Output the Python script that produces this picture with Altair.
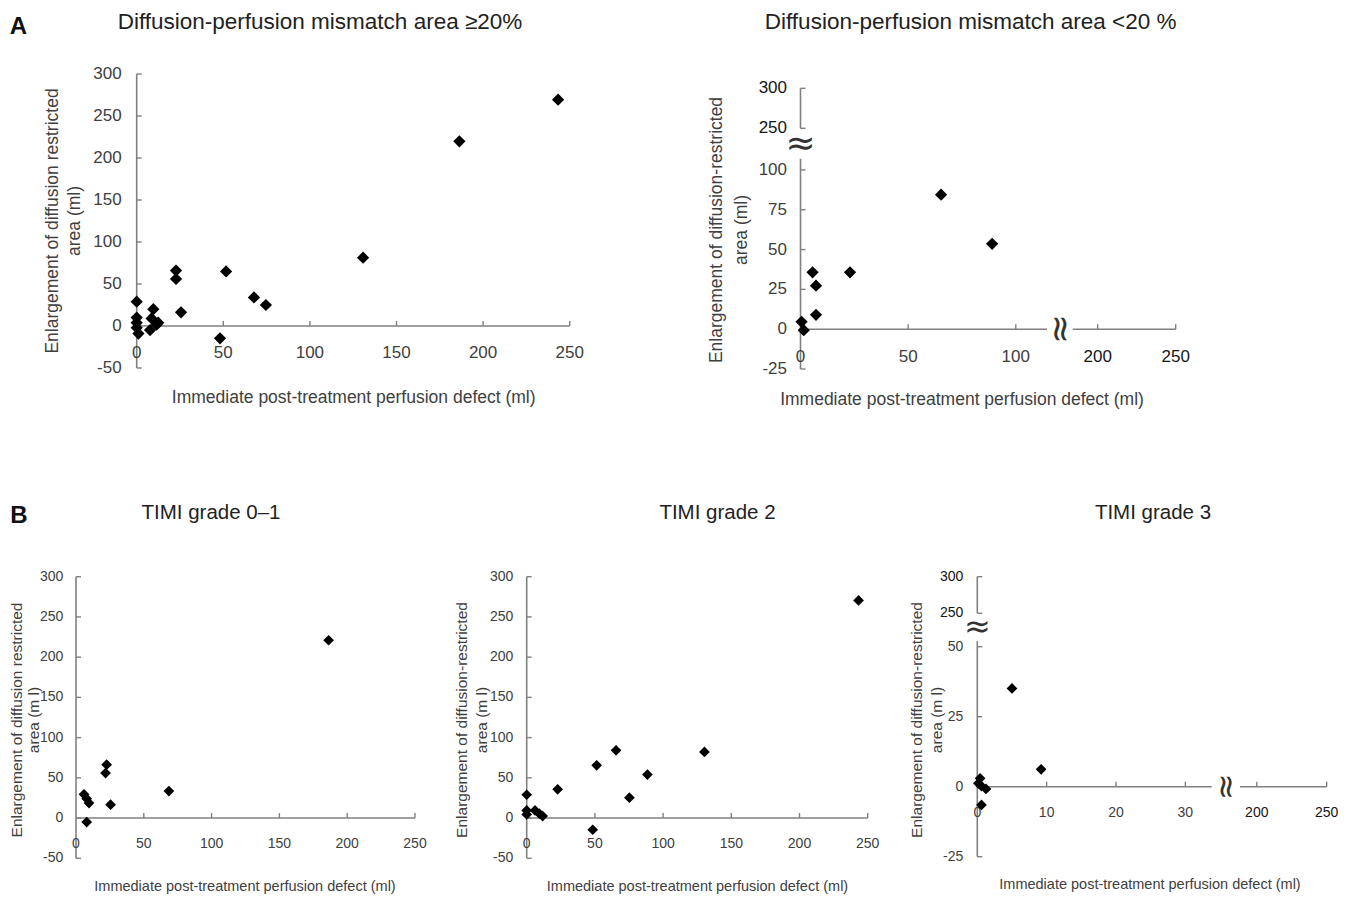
import altair as alt
import pandas as pd

# ---------------- data ----------------
# A: diffusion-perfusion mismatch >= 20 %
A1_X = [0, 0, 0, 0, 1, 9.6, 8.6, 7.7, 11.5, 12.4, 22.7, 22.7, 25.6, 48.1, 51.6, 67.7, 74.6, 130.7, 186.3, 243.3]
A1_Y = [29, 10, 4, -2, -9, 20, 9, -4.8, 1.5, 4, 66, 56, 16.3, -14.7, 65, 34, 25, 81.3, 219.8, 269.4]
# A: diffusion-perfusion mismatch < 20 %
A2_X = [0.5, 1.5, 5.6, 7.2, 7.2, 23, 65.3, 89]
A2_Y = [4.6, -0.6, 35.7, 27.3, 9, 35.7, 84.5, 53.6]
# B: TIMI grade 0-1
B1_X = [5.9, 7.9, 9.6, 7.9, 21.8, 22.6, 25.5, 68.5, 186.3]
B1_Y = [29.5, 24, 18.7, -5, 56, 66.4, 16.6, 33.6, 221]
# B: TIMI grade 2
B2_X = [0, 0, 0, 6.1, 9.3, 11.7, 22.7, 48.4, 51.3, 65.5, 75.3, 88.5, 130.3, 243.3]
B2_Y = [29, 9.5, 4.5, 9.5, 5.4, 2.5, 35.7, -14.5, 65.6, 84.2, 25.3, 54, 82.2, 270.5]
# B: TIMI grade 3
B3_X = [0.15, 0.4, 0.6, 0.6, 1.25, 5, 9.2]
B3_Y = [1.2, 3, 0.2, -6.5, -0.8, 35.1, 6.2]

TITLES = ["Diffusion-perfusion mismatch area \u226520%",
          "Diffusion-perfusion mismatch area <20 %",
          "TIMI grade 0\u20131", "TIMI grade 2", "TIMI grade 3"]
LETTERS = ["A", "B"]
X_TITLE = "Immediate post-treatment perfusion defect (ml)"
Y_TITLES = [["Enlargement of diffusion restricted", "area (ml)"],
            ["Enlargement of diffusion-restricted", "area (ml)"],
            ["Enlargement of diffusion restricted", "area (m l)"],
            ["Enlargement of diffusion-restricted", "area (m l)"],
            ["Enlargement of diffusion-restricted", "area (m l)"]]

# tick values / labels
Y_FULL = [-50, 0, 50, 100, 150, 200, 250, 300]
X_FULL_LABELS = [0, 50, 100, 150, 200, 250]
X_FULL_TICKS = [50, 100, 150, 200, 250]
A2_Y_LOW = [-25, 0, 25, 50, 75, 100]
A2_Y_HIGH = [250, 300]
A2_X_LOW_LABELS = [0, 50, 100]
A2_X_LOW_TICKS = [50, 100]
A2_X_HIGH = [200, 250]
B3_Y_LOW = [-25, 0, 25, 50]
B3_Y_HIGH = [250, 300]
B3_X_LOW_LABELS = [0, 10, 20, 30]
B3_X_LOW_TICKS = [10, 20, 30]
B3_X_HIGH = [200, 250]

# axis segments (data units) and break positions
A1_XSEG, A1_YSEG = [(0, 250)], [(-50, 300)]
A2_XSEG, A2_YSEG = [(0, 114.5), (184, 250)], [(-25, 107), (250, 300)]
B_XSEG, B_YSEG = [(0, 250)], [(-50, 300)]
B3_XSEG, B3_YSEG = [(0, 33.8), (188, 250)], [(-25, 52), (250, 300)]

# ---------------- styling / layout ----------------
FONT = "Liberation Sans, Arial, sans-serif"
AX = "#808080"
LAB = "#404040"
TIT = "#222222"
OFF = 8


def R(vals):
    return [v - OFF for v in vals]


def build_panel(xv, yv, L):
    xs = alt.Scale(domain=L["xdom"], range=R(L["xpx"]), nice=False, zero=False)
    ys = alt.Scale(domain=L["ydom"], range=R(L["ypx"]), nice=False, zero=False)

    def ex(f):
        return alt.X(f, type="quantitative", scale=xs, axis=None)

    def ey(f):
        return alt.Y(f, type="quantitative", scale=ys, axis=None)

    layers = []
    # axis lines
    xseg = pd.DataFrame({"a": [s[0] for s in L["xseg"]], "b": [s[1] for s in L["xseg"]], "z": 0})
    layers.append(alt.Chart(xseg).mark_rule(color=AX, strokeWidth=1.6).encode(
        x=ex("a"), x2=alt.X2("b"), y=ey("z")))
    yseg = pd.DataFrame({"a": [s[0] for s in L["yseg"]], "b": [s[1] for s in L["yseg"]], "z": 0})
    layers.append(alt.Chart(yseg).mark_rule(color=AX, strokeWidth=1.6).encode(
        y=ey("a"), y2=alt.Y2("b"), x=ex("z")))
    # ticks (inside)
    yt = pd.DataFrame({"v": L["yticks"], "z": 0})
    layers.append(alt.Chart(yt).mark_rule(color=AX, strokeWidth=1.4, x2Offset=5).encode(
        x=ex("z"), x2=alt.X2("z"), y=ey("v")))
    xt = pd.DataFrame({"v": L["xticks"], "z": 0})
    layers.append(alt.Chart(xt).mark_rule(color=AX, strokeWidth=1.4, y2Offset=-5).encode(
        y=ey("z"), y2=alt.Y2("z"), x=ex("v")))
    # tick labels
    for vals, dark in [(L["ylabels"], False), (L.get("ylabels_b", []), True)]:
        if not vals:
            continue
        d = pd.DataFrame({"v": vals, "t": [str(v) for v in vals], "z": 0})
        layers.append(alt.Chart(d).mark_text(
            align="right", baseline="middle", dx=L["ydx"], font=FONT, fontSize=L["fs"],
            fontWeight=500 if dark else "normal", color="#151515" if dark else LAB).encode(
            x=ex("z"), y=ey("v"), text="t:N"))
    for vals, dark in [(L["xlabels"], False), (L.get("xlabels_b", []), True)]:
        if not vals:
            continue
        d = pd.DataFrame({"v": vals, "t": [str(v) for v in vals], "z": 0})
        layers.append(alt.Chart(d).mark_text(
            align="center", baseline="middle", dy=L["xdy"], font=FONT, fontSize=L["fs"],
            fontWeight=500 if dark else "normal", color="#151515" if dark else LAB).encode(
            x=ex("v"), y=ey("z"), text="t:N"))
    # axis breaks
    if L.get("xbreak") is not None:
        d = pd.DataFrame({"v": [L["xbreak"]], "z": 0, "t": ["\u2248"]})
        layers.append(alt.Chart(d).mark_text(
            align="center", baseline="middle", angle=90, font="DejaVu Sans", fontSize=L["bfs"],
            color="#333333").encode(x=ex("v"), y=ey("z"), text="t:N"))
    if L.get("ybreak") is not None:
        d = pd.DataFrame({"v": [L["ybreak"]], "z": 0, "t": ["\u2248"]})
        layers.append(alt.Chart(d).mark_text(
            align="center", baseline="middle", font="DejaVu Sans", fontSize=L["bfs"],
            color="#333333").encode(x=ex("z"), y=ey("v"), text="t:N"))
    # data points
    pts = pd.DataFrame({"x": xv, "y": yv})
    layers.append(alt.Chart(pts).mark_point(
        shape="diamond", filled=True, color="black", opacity=1, size=L["ps"]).encode(
        x=ex("x"), y=ey("y")))
    # panel title, axis titles
    tx, ty = L["title_at"]
    layers.append(alt.Chart(pd.DataFrame({"t": [L["title"]]})).mark_text(
        align="center", baseline="middle", font=FONT, fontSize=L["tfs"], color=TIT).encode(
        x=alt.value(tx - OFF), y=alt.value(ty - OFF), text="t:N"))
    xx, xy = L["xtitle_at"]
    layers.append(alt.Chart(pd.DataFrame({"t": [X_TITLE]})).mark_text(
        align="center", baseline="middle", font=FONT, fontSize=L["xtfs"], color=LAB).encode(
        x=alt.value(xx - OFF), y=alt.value(xy - OFF), text="t:N"))
    for line, lx in zip(L["ytitle"], L["ytitle_x"]):
        layers.append(alt.Chart(pd.DataFrame({"t": [line]})).mark_text(
            align="center", baseline="middle", angle=270, font=FONT, fontSize=L["ytfs"],
            color=LAB).encode(
            x=alt.value(lx - OFF), y=alt.value(L["ytitle_y"] - OFF), text="t:N"))
    if L.get("letter"):
        lx, ly = L["letter_at"]
        layers.append(alt.Chart(pd.DataFrame({"t": [L["letter"]]})).mark_text(
            align="center", baseline="middle", font=FONT, fontSize=24, fontWeight="bold",
            color="#111111").encode(x=alt.value(lx - OFF), y=alt.value(ly - OFF), text="t:N"))
    return alt.layer(*layers)


A_STYLE = dict(fs=17, tfs=22.5, xtfs=17.5, ytfs=17.5, ps=150, bfs=36)
B_STYLE = dict(fs=14, tfs=20.5, xtfs=14.5, ytfs=15.5, ps=115, bfs=32)

L_A1 = dict(A_STYLE, xdom=[0, 250], xpx=[136.7, 569.7], ydom=[-50, 300], ypx=[368, 74],
            xseg=A1_XSEG, yseg=A1_YSEG, yticks=Y_FULL, xticks=X_FULL_TICKS,
            ylabels=Y_FULL, xlabels=X_FULL_LABELS, ydx=-15, xdy=26.7,
            title=TITLES[0], title_at=(320, 21.7), xtitle_at=(353.7, 398),
            ytitle=Y_TITLES[0], ytitle_x=[53, 75], ytitle_y=221,
            letter=LETTERS[0], letter_at=(18.5, 27))
L_A2 = dict(A_STYLE, xdom=[0, 114.5, 184, 250], xpx=[800.5, 1047, 1072.7, 1175.7],
            ydom=[-25, 107, 250, 300], ypx=[369, 158.8, 128.3, 88.3],
            xseg=A2_XSEG, yseg=A2_YSEG, yticks=A2_Y_LOW + A2_Y_HIGH,
            xticks=A2_X_LOW_TICKS + A2_X_HIGH,
            ylabels=A2_Y_LOW, ylabels_b=A2_Y_HIGH, xlabels=A2_X_LOW_LABELS, xlabels_b=A2_X_HIGH,
            ydx=-13.5, xdy=27.8, xbreak=149.25, ybreak=178.5,
            title=TITLES[1], title_at=(970.6, 21.8), xtitle_at=(962, 400),
            ytitle=Y_TITLES[1], ytitle_x=[716.8, 742], ytitle_y=230)
L_B1 = dict(B_STYLE, xdom=[0, 250], xpx=[76, 415], ydom=[-50, 300], ypx=[858.3, 576.7],
            xseg=B_XSEG, yseg=B_YSEG, yticks=Y_FULL, xticks=X_FULL_TICKS,
            ylabels=Y_FULL, xlabels=X_FULL_LABELS, ydx=-12.7, xdy=26,
            title=TITLES[2], title_at=(211, 513), xtitle_at=(245, 886.7),
            ytitle=Y_TITLES[2], ytitle_x=[17, 34], ytitle_y=720,
            letter=LETTERS[1], letter_at=(19, 516))
L_B2 = dict(B_STYLE, xdom=[0, 250], xpx=[526.7, 867.7], ydom=[-50, 300], ypx=[858.3, 576.7],
            xseg=B_XSEG, yseg=B_YSEG, yticks=Y_FULL, xticks=X_FULL_TICKS,
            ylabels=Y_FULL, xlabels=X_FULL_LABELS, ydx=-13.4, xdy=26,
            title=TITLES[3], title_at=(717.5, 513), xtitle_at=(697.5, 886.7),
            ytitle=Y_TITLES[3], ytitle_x=[461.7, 481.7], ytitle_y=720)
L_B3 = dict(B_STYLE, xdom=[0, 33.8, 188, 250], xpx=[977.3, 1211.7, 1240, 1326.7],
            ydom=[-25, 52, 250, 300], ypx=[856.7, 641.1, 613.3, 576.7],
            xseg=B3_XSEG, yseg=B3_YSEG, yticks=B3_Y_LOW + B3_Y_HIGH,
            xticks=B3_X_LOW_TICKS + B3_X_HIGH,
            ylabels=B3_Y_LOW, ylabels_b=B3_Y_HIGH, xlabels=B3_X_LOW_LABELS, xlabels_b=B3_X_HIGH,
            ydx=-14, xdy=26.6, xbreak=110.9, ybreak=151,
            title=TITLES[4], title_at=(1153, 513), xtitle_at=(1150, 885),
            ytitle=Y_TITLES[4], ytitle_x=[916.7, 936.7], ytitle_y=720)

panels = [build_panel(A1_X, A1_Y, L_A1), build_panel(A2_X, A2_Y, L_A2),
          build_panel(B1_X, B1_Y, L_B1), build_panel(B2_X, B2_Y, L_B2),
          build_panel(B3_X, B3_Y, L_B3)]

chart = alt.layer(*panels).resolve_scale(x="independent", y="independent").properties(
    width=1339, height=892, padding=0,
    autosize=alt.AutoSizeParams(type="none"), background="white",
).configure_view(stroke=None)

chart.save("out.html", embed_options={"renderer": "svg", "actions": False})
